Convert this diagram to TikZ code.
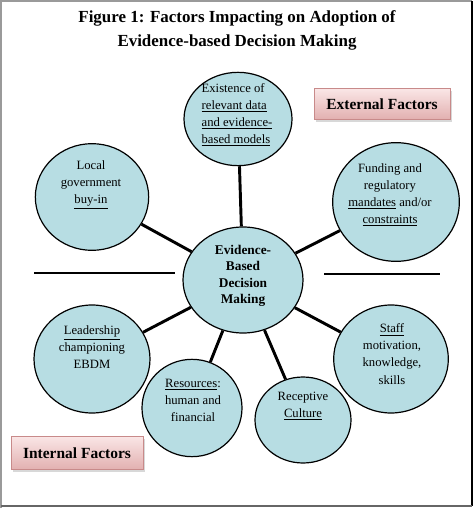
\documentclass[tikz,border=0pt]{standalone}
\usepackage{fontspec}
\setmainfont{Liberation Serif}
\usetikzlibrary{shapes.geometric,shadows,backgrounds}
\definecolor{bubble}{HTML}{B7DDE3}
\definecolor{tagtop}{HTML}{FAE6E6}
\definecolor{tagbot}{HTML}{E2B0B0}
\definecolor{tagline}{HTML}{C88A8A}
\definecolor{frame}{HTML}{9A9A9A}

\begin{document}
\begin{tikzpicture}[x=0.75pt, y=-0.75pt,
  bub/.style={ellipse, draw, fill=bubble, line width=0.9pt, inner sep=0pt},
  txt/.style={align=center, font=\fontsize{9.5}{12.8}\selectfont, inner sep=0pt},
  ctrtxt/.style={txt, font=\fontsize{10}{12.4}\selectfont\bfseries},
  tag/.style={draw=tagline, top color=tagtop, bottom color=tagbot, inner sep=0pt,
    font=\fontsize{11.6}{14}\selectfont\bfseries,
    drop shadow={shadow xshift=1.8pt, shadow yshift=-1.8pt, fill=black!30}},
  spoke/.style={line width=2.2pt},
  rule/.style={line width=0.9pt}]
  \useasboundingbox (0,0) rectangle (474,509);
  \draw[frame, line width=1.5pt] (1,508) -- (1,1) -- (472,1);
  \draw[line width=2.2pt] (472,1) -- (472,506);
  \draw[black!60, line width=2.2pt] (1,506) -- (472,506);

  \node[font=\fontsize{12.7}{18}\selectfont\bfseries, align=center] (title) at (237,30)
    {Figure 1: Factors Impacting on Adoption of\\Evidence-based Decision Making};

  \node[bub, minimum width=90pt, minimum height=79.5pt] (ctr) at (243,280) {};
  \node[bub, minimum width=81pt, minimum height=70pt] (data) at (238,119) {};
  \node[bub, minimum width=85pt, minimum height=80pt] (local) at (92,197) {};
  \node[bub, minimum width=95pt, minimum height=89pt] (fund) at (396,202) {};
  \node[bub, minimum width=87pt, minimum height=81pt] (lead) at (92,359) {};
  \node[bub, minimum width=75pt, minimum height=73pt] (res) at (192,408) {};
  \node[bub, minimum width=72pt, minimum height=64.5pt] (cult) at (303,420) {};
  \node[bub, minimum width=86pt, minimum height=81pt] (staff) at (391,359) {};

  \node[ctrtxt] (ctrt) at (243,276) {Evidence-\\Based\\Decision\\Making};
  \node[txt, align=left] (datat) at (237,115) {Existence of\\\underline{relevant data}\\\underline{and evidence-}\\\underline{based models}};
  \node[txt] (localt) at (91,185) {Local\\government\\\underline{buy-in}};
  \node[txt] (fundt) at (390,195) {Funding and\\regulatory\\\underline{mandates} and/or\\\underline{constraints}};
  \node[txt] (leadt) at (92,347) {\underline{Leadership}\\championing\\EBDM};
  \node[txt] (rest) at (193,400) {\underline{Resources}:\\human and\\financial};
  \node[txt] (cultt) at (303,406) {Receptive\\\underline{Culture}};
  \node[txt] (stafft) at (392,354) {\underline{Staff}\\motivation,\\knowledge,\\skills};

  \node[tag, minimum width=102pt, minimum height=23pt] (ext) at (382,104) {External Factors};
  \node[tag, minimum width=99pt, minimum height=25pt] (int) at (77,453) {Internal Factors};

  \coordinate (l1) at (34,273);
  \coordinate (l2) at (175,273);
  \coordinate (r1) at (324,274);
  \coordinate (r2) at (440,274);
  \draw[rule] (l1) -- (l2);
  \draw[rule] (r1) -- (r2);

  \begin{pgfonlayer}{background}
    \foreach \n in {data,local,fund,lead,res,cult,staff}
      \draw[spoke] (ctr) -- (\n);
  \end{pgfonlayer}
\end{tikzpicture}
\end{document}
